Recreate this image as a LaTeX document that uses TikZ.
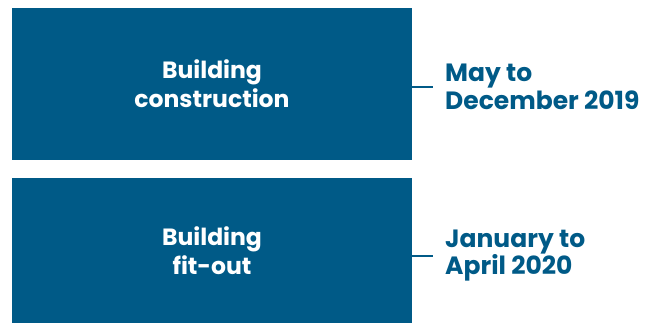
\documentclass[tikz,border=0pt]{standalone}
\usepackage{fontspec}
\setmainfont{Poppins}
\definecolor{phaseblue}{RGB}{0,90,135}
\begin{document}
\begin{tikzpicture}[x=1pt, y=-1pt,
		phase/.style={fill=phaseblue, text=white, inner sep=0pt, minimum width=400pt, align=center, font=\fontsize{23.5}{29}\selectfont\bfseries},
		period/.style={text=phaseblue, inner xsep=12pt, inner ysep=0pt, anchor=west, align=left, font=\fontsize{25}{27.5}\selectfont\bfseries}]
		\useasboundingbox (0,0) rectangle (652,324);
		\node[phase, minimum height=152pt] (build) at (212,84) {Building\\construction};
		\node[phase, minimum height=145pt] (fitout) at (212,250.5) {Building\\fit-out};
		\node[period] (build-t) at (433,87) {May to\\December 2019};
		\node[period] (fitout-t) at (433,255.5) {January to\\April 2020};
		\draw[phaseblue, line width=2pt] (build.east |- build-t.west) -- (build-t);
		\draw[phaseblue, line width=2pt] (fitout.east |- fitout-t.west) -- (fitout-t);
	\end{tikzpicture}
\end{document}
